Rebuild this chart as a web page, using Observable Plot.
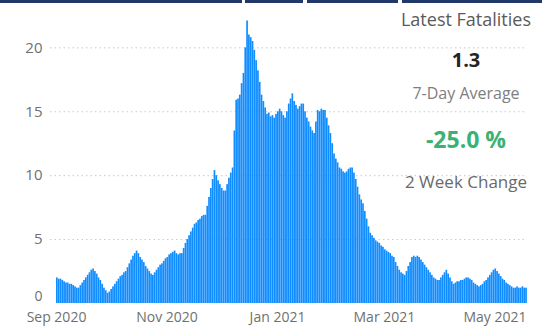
<!DOCTYPE html>
<html><head><meta charset="utf-8">
<script src="https://cdn.jsdelivr.net/npm/d3@7"></script>
<script src="https://cdn.jsdelivr.net/npm/@observablehq/plot@0.6"></script>
<style>
html,body{margin:0;padding:0;background:#fff;}
#wrap{position:relative;width:542px;height:326px;overflow:hidden;font-family:"Open Sans",sans-serif;}
.bar{position:absolute;top:0;height:3px;background:#22386a;}
.kpi{position:absolute;left:392px;width:148px;text-align:center;white-space:nowrap;line-height:1;}
</style></head><body>
<div id="wrap"><div id="chart"></div></div>
<script>
// ---- data ----
const startDate = "2020-09-01";
const deaths = [
 2.0,1.9,1.9,1.8,1.7,1.6,1.6,1.5,1.5,1.4,
 1.3,1.2,1.2,1.4,1.6,1.8,2.0,2.2,2.4,2.6,
 2.7,2.5,2.3,2.0,1.8,1.5,1.2,1.0,0.8,0.9,
 1.1,1.3,1.5,1.7,1.9,2.1,2.2,2.4,2.5,2.8,
 3.1,3.4,3.7,3.9,4.1,3.9,3.6,3.4,3.2,2.9,
 2.7,2.5,2.3,2.2,2.4,2.6,2.8,3.0,3.1,3.3,
 3.5,3.6,3.8,3.9,4.0,4.1,3.9,3.8,3.9,3.9,
 4.3,4.7,5.0,5.3,5.6,5.9,6.2,6.3,6.5,6.6,
 6.8,6.9,6.9,7.6,8.3,9.0,9.7,10.4,10.0,9.6,
 9.3,9.0,8.8,8.8,9.3,9.8,10.2,10.6,13.5,15.9,
 16.0,16.3,17.2,18.0,20.0,22.1,21.0,20.8,20.5,19.8,
 19.0,18.2,17.3,16.3,15.8,15.3,14.8,14.9,14.6,14.7,
 14.5,14.8,15.0,15.2,15.0,14.7,14.5,15.0,15.6,16.0,
 16.4,15.8,15.5,15.2,15.4,15.6,15.6,15.0,14.5,14.2,
 13.8,13.5,13.3,14.2,15.1,15.0,15.2,15.1,15.1,14.5,
 13.9,13.3,12.5,11.7,11.3,11.0,10.6,10.5,10.3,10.2,
 10.3,10.5,10.6,10.6,10.2,9.7,9.1,8.5,8.1,7.8,
 7.2,6.6,6.0,5.5,5.3,5.1,4.9,4.8,4.7,4.5,
 4.4,4.2,4.1,4.0,3.9,3.7,3.6,3.2,2.9,2.6,
 2.4,2.3,2.2,2.5,2.9,3.2,3.6,3.7,3.6,3.7,
 3.6,3.4,3.2,3.0,2.8,2.6,2.4,2.2,2.0,1.9,
 1.8,1.8,2.0,2.2,2.4,2.6,2.3,2.0,1.7,1.5,
 1.6,1.7,1.7,1.8,1.8,1.9,2.0,2.0,1.9,1.8,
 1.6,1.5,1.4,1.3,1.4,1.5,1.7,1.8,2.0,2.2,
 2.4,2.6,2.7,2.5,2.3,2.1,1.9,1.8,1.6,1.5,
 1.4,1.3,1.2,1.2,1.3,1.2,1.2,1.3,1.2,1.2
];
const xTicks = ["2020-09-01","2020-11-01","2021-01-01","2021-03-01","2021-05-01"];
const yTicks = [0,5,10,15,20];
const kpiTitle = "Latest Fatalities";
const kpiValues = ["1.3","-25.0 %"];
const kpiLabels = ["7-Day Average","2 Week Change"];

// ---- build ----
const t0 = new Date(startDate);
const data = deaths.map((v,i)=>({date:d3.utcDay.offset(t0,i), next:d3.utcDay.offset(t0,i+1), v}));

const chart = Plot.plot({
  width:542, height:326,
  marginLeft:56, marginRight:15, marginTop:9, marginBottom:23,
  style:{fontFamily:'"Open Sans",sans-serif', fontSize:"15px", color:"#707070", background:"transparent"},
  x:{type:"utc", domain:[t0, d3.utcDay.offset(t0, deaths.length)], label:null, axis:null},
  y:{domain:[0,23], label:null, axis:null},
  marks:[
    Plot.gridY(yTicks.filter(d=>d>0), {stroke:"#c8c8c8", strokeOpacity:1, strokeDasharray:"1.5,3", insetLeft:-6}),
    Plot.rectY(data, {x1:"date", x2:"next", y:"v", fill:"#118DFF", insetRight:0.12}),
    Plot.axisY(yTicks.filter(d=>d>0), {tickSize:0, tickPadding:14, label:null}),
    Plot.axisY(yTicks.filter(d=>d===0), {tickSize:0, tickPadding:14, label:null, dy:-6.5, fontSize:14}),
    Plot.axisX(xTicks.map(d=>new Date(d)), {tickSize:0, tickPadding:8.5, label:null, fontSize:14, tickFormat:d3.utcFormat("%b %Y")})
  ]
});
document.getElementById("chart").appendChild(chart);

const wrap = document.getElementById("wrap");
[[0,242],[245,303],[307,398],[402,542]].forEach(([a,b])=>{
  const s = document.createElement("div");
  s.className = "bar"; s.style.left = a+"px"; s.style.width = (b-a)+"px";
  wrap.appendChild(s);
});
function addText(txt, top, size, color, weight){
  const d = document.createElement("div");
  d.className = "kpi";
  d.textContent = txt;
  d.style.top = top+"px";
  d.style.fontSize = size+"px";
  d.style.color = color;
  d.style.fontWeight = weight;
  wrap.appendChild(d);
}
addText(kpiTitle, 10, 18, "#5a5a5a", 400);
addText(kpiValues[0], 50, 20, "#252423", 700);
addText(kpiLabels[0], 85, 16, "#7e7e7e", 400);
addText(kpiValues[1], 128, 23, "#3bb273", 700);
addText(kpiLabels[1], 173, 17, "#6a6a6a", 400);
</script>
</body></html>
